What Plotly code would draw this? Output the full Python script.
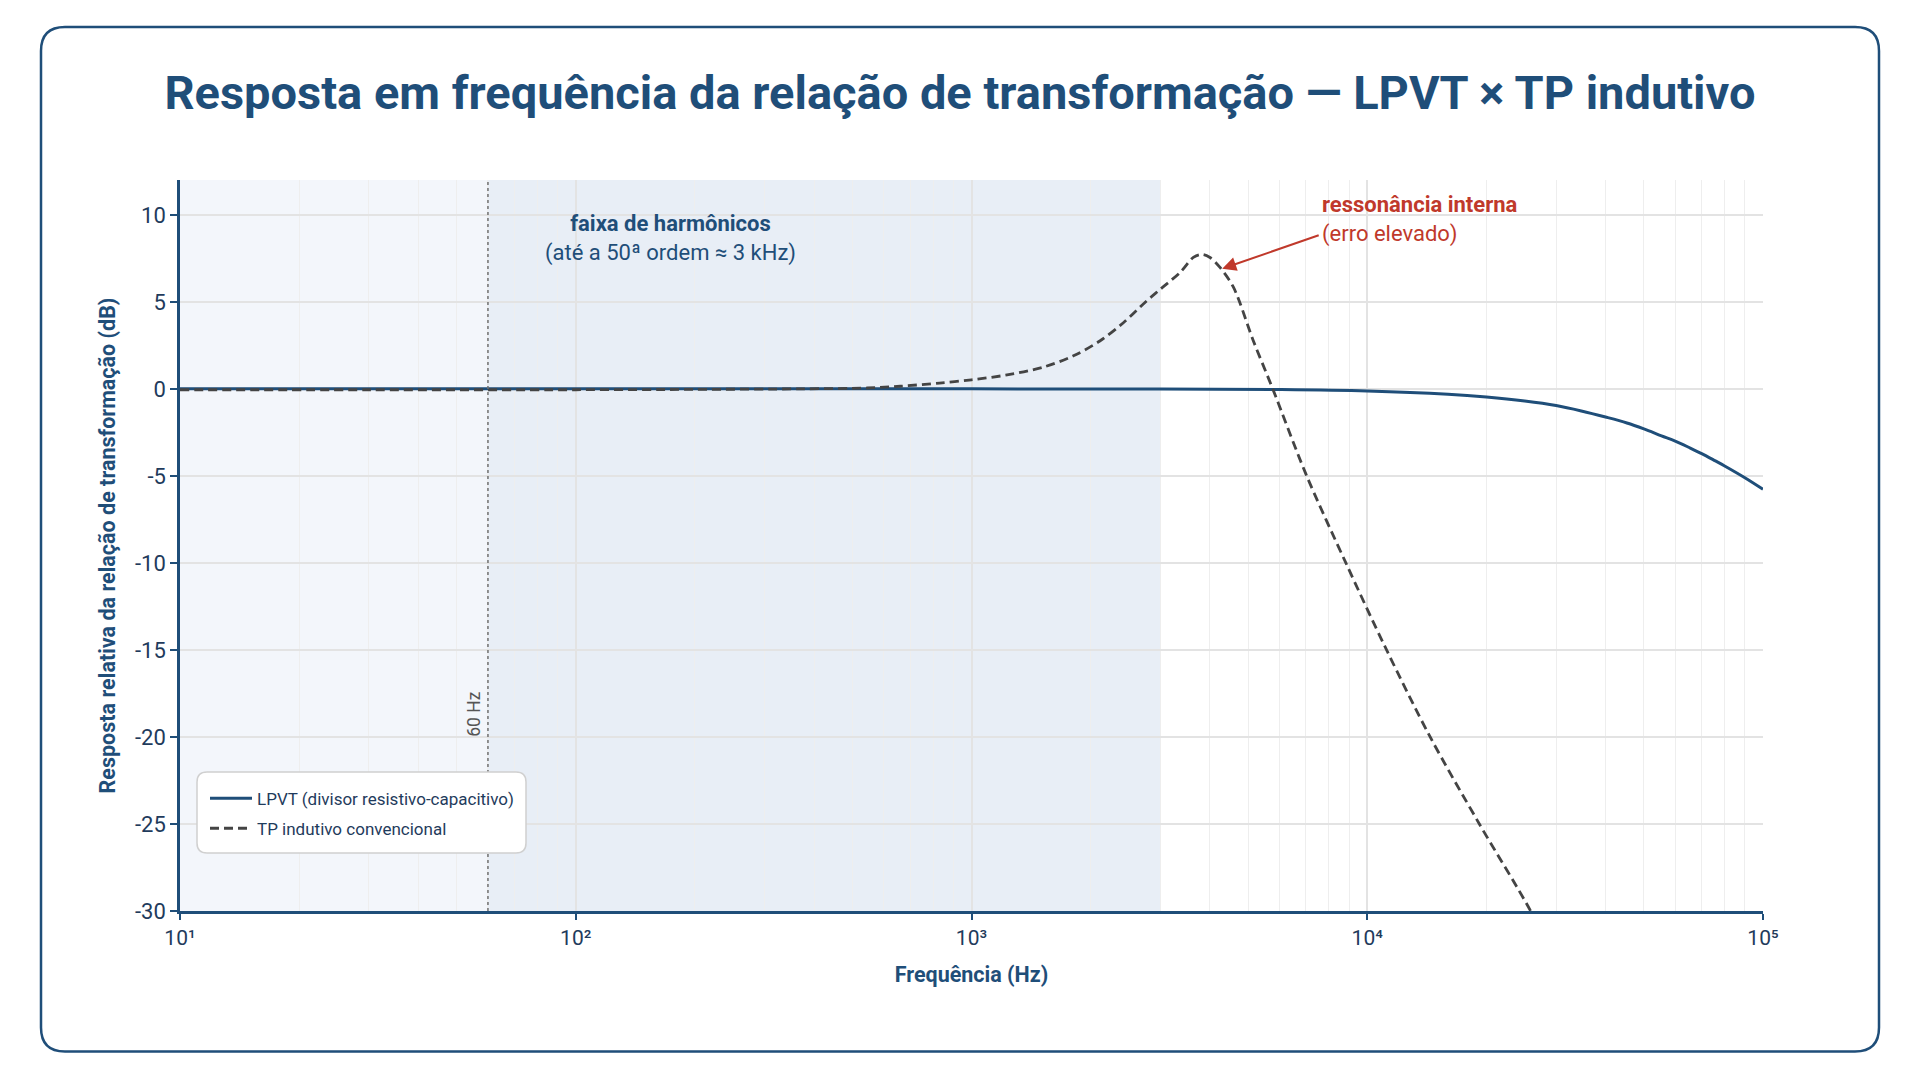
import math
import plotly.graph_objects as go

# ---------------- data ----------------
freq_lpvt = [10, 100, 1000, 3000, 6000, 10000, 16000, 20000, 25000, 30000, 34750,
             40000, 45300, 50000, 55400, 60000, 65500, 70000, 75800, 80000, 90200,
             100000]
db_lpvt = [0.0, 0.0, 0.0, -0.01, -0.04, -0.12, -0.31, -0.47, -0.7, -0.96, -1.27,
           -1.62, -1.96, -2.3, -2.7, -3.0, -3.4, -3.72, -4.14, -4.43, -5.12,
           -5.77]

freq_tp = [10, 30, 100, 200, 370, 545, 660, 830, 1000, 1230, 1520, 1810, 2110,
           2420, 2770, 3010, 3370, 3635, 3820, 4006, 4240, 4590, 5150, 5770,
           7000, 8830, 11190, 14420, 19200, 25870, 30000]
db_tp = [-0.05, -0.05, -0.05, -0.03, 0.0, 0.05, 0.15, 0.33, 0.52, 0.8, 1.25, 1.9,
         2.75, 3.8, 5.05, 5.75, 6.7, 7.55, 7.72, 7.55, 6.99, 5.84, 2.78, 0.0,
         -4.9, -10.0, -15.0, -20.0, -25.0, -30.0, -33.0]

series_names = ["LPVT (divisor resistivo-capacitivo)", "TP indutivo convencional"]
fund_freq = 60
harm_max_freq = 3000
x_min_freq, x_max_freq = 10, 100000
x_tick_vals = [10, 100, 1000, 10000, 100000]
x_tick_text = ["10¹", "10²", "10³", "10⁴", "10⁵"]
y_min, y_max = -30, 12
y_tick_vals = [-30, -25, -20, -15, -10, -5, 0, 5, 10]
y_tick_text = ["-30", "-25", "-20", "-15", "-10", "-5", "0", "5", "10"]

# ---------------- styling / layout constants ----------------
W, H = 1920, 1080
ML, MR, MT, MB = 180, 157, 180, 168.5
PW, PH = W - ML - MR, H - MT - MB
NAVY = "#1f4e79"
DARK = "#1f3b5c"
GRAY = "#444444"
RED = "#c0392b"
FONT = "Roboto"


def px_x(x):
    return (x - ML) / PW


def px_y(y):
    return (H - MB - y) / PH


def rounded_rect(x0, y0, x1, y1, r):
    # pixel coords -> paper-coord SVG path
    rx, ry = r / PW, r / PH
    X0, X1 = px_x(x0), px_x(x1)
    Yt, Yb = px_y(y0), px_y(y1)
    return (f"M{X0 + rx},{Yt} L{X1 - rx},{Yt} Q{X1},{Yt} {X1},{Yt - ry} "
            f"L{X1},{Yb + ry} Q{X1},{Yb} {X1 - rx},{Yb} L{X0 + rx},{Yb} "
            f"Q{X0},{Yb} {X0},{Yb + ry} L{X0},{Yt - ry} Q{X0},{Yt} {X0 + rx},{Yt} Z")


fig = go.Figure()
fig.add_trace(go.Scatter(
    x=freq_lpvt, y=db_lpvt, mode="lines", name=series_names[0], legendgroup="a",
    line=dict(color=NAVY, width=3, shape="spline", smoothing=1.0)))
fig.add_trace(go.Scatter(
    x=freq_tp, y=db_tp, mode="lines", name=series_names[1], legendgroup="b",
    line=dict(color=GRAY, width=2.8, dash="9px,5px", shape="spline", smoothing=0.9)))

shapes = [
    dict(type="rect", xref="x", yref="paper", x0=x_min_freq, x1=fund_freq, y0=0, y1=1,
         fillcolor="#f3f6fb", line=dict(width=0), layer="below"),
    dict(type="rect", xref="x", yref="paper", x0=fund_freq, x1=harm_max_freq, y0=0, y1=1,
         fillcolor="#e8eef6", line=dict(width=0), layer="below"),
    dict(type="line", xref="x", yref="paper", x0=fund_freq, x1=fund_freq, y0=0, y1=1,
         line=dict(color="#707070", width=1.5, dash="dot"), layer="above"),
    dict(type="path", xref="paper", yref="paper", path=rounded_rect(197, 772.5, 526, 853.5, 10),
         fillcolor="white", line=dict(color="#d0d0d0", width=1.5), layer="above"),
    dict(type="path", xref="paper", yref="paper", path=rounded_rect(41, 27, 1879, 1052, 24),
         fillcolor="rgba(0,0,0,0)", line=dict(color=NAVY, width=2.5), layer="above"),
]

annotations = [
    dict(x=math.log10(174), y=8.62, xref="x", yref="y", showarrow=False,
         text="<b>faixa de harmônicos</b><br>(até a 50ª ordem ≈ 3 kHz)",
         font=dict(family=FONT, size=22, color=NAVY), align="center",
         xanchor="center", yanchor="middle"),
    dict(x=math.log10(4300), y=6.9, xref="x", yref="y", text="", showarrow=True,
         ax=98, ay=-34, arrowcolor=RED, arrowwidth=2, arrowhead=2, arrowsize=1.4,
         standoff=0),
    dict(x=math.log10(7580), y=9.75, xref="x", yref="y", showarrow=False,
         text="<b>ressonância interna</b><br>(erro elevado)",
         font=dict(family=FONT, size=22, color=RED), align="left",
         xanchor="left", yanchor="middle"),
    dict(x=math.log10(fund_freq), y=-18.67, xref="x", yref="y", showarrow=False,
         text="60 Hz", textangle=-90, xshift=-14,
         font=dict(family=FONT, size=17.5, color="#555555")),
]

fig.update_layout(
    width=W, height=H,
    margin=dict(l=ML, r=MR, t=MT, b=MB),
    paper_bgcolor="white", plot_bgcolor="white",
    font=dict(family=FONT, color=DARK),
    title=dict(text="<b>Resposta em frequência da relação de transformação — LPVT × TP indutivo</b>",
               x=0.5, xanchor="center", y=1 - 93 / H, yanchor="middle", yref="container",
               font=dict(family=FONT, size=47, color=NAVY)),
    shapes=shapes,
    annotations=annotations,
    showlegend=True,
    legend=dict(x=px_x(205), y=px_y(781), xanchor="left", yanchor="top",
                bgcolor="rgba(0,0,0,0)", borderwidth=0,
                font=dict(family=FONT, size=17, color=DARK),
                tracegroupgap=5, itemwidth=42),
)

fig.update_xaxes(
    type="log", range=[math.log10(x_min_freq), math.log10(x_max_freq)],
    tickvals=x_tick_vals, ticktext=x_tick_text,
    showline=True, linecolor=NAVY, linewidth=2.5, mirror=False,
    ticks="outside", ticklen=6, tickcolor=NAVY, tickwidth=1.5,
    tickfont=dict(family=FONT, size=21, color=DARK),
    showgrid=True, gridcolor="#e3e3e3", gridwidth=1.5,
    minor=dict(dtick="D1", showgrid=True, gridcolor="#eeeeee", gridwidth=1, ticks=""),
    title=dict(text="<b>Frequência (Hz)</b>", standoff=18,
               font=dict(family=FONT, size=21.5, color=NAVY)),
    zeroline=False,
)
fig.update_yaxes(
    range=[y_min, y_max], tickvals=y_tick_vals, ticktext=y_tick_text,
    showline=True, linecolor=NAVY, linewidth=2.5, mirror=False,
    ticks="outside", ticklen=7, tickcolor=NAVY, tickwidth=1.5,
    tickfont=dict(family=FONT, size=22, color=DARK),
    showgrid=True, gridcolor="#e3e3e3", gridwidth=1.5, zeroline=False,
    title=dict(text="<b>Resposta relativa da relação de transformação (dB)</b>", standoff=14,
               font=dict(family=FONT, size=21.5, color=NAVY)),
)

fig.write_html("out.html")
